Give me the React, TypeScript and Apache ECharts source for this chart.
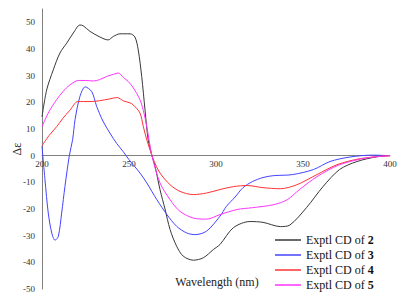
import React, { useEffect, useRef } from "react";
import * as echarts from "echarts";

const seriesNames = ["2", "3", "4", "5"];
const seriesColors = ["#383838", "#4444ff", "#ff3333", "#ff33ff"];

const cd2: [number, number][] = [
  [200, 14.6], [202.7, 24.7], [206.5, 32.2], [210.3, 38.5], [214.2, 42.2], [218, 46], [221.8, 49],
  [223.7, 48.7], [227.6, 46.6], [233.3, 44.5], [238, 43.4], [241, 44.7], [244.8, 45.7], [250.6, 45.7],
  [253.4, 44.5], [255.3, 39.7], [257.3, 29.7], [259.2, 17.2], [261, 6], [263.2, 0], [265, -4],
  [267.8, -12.7], [270.7, -20], [273.6, -27.7], [277.4, -34], [281.2, -37.7], [287, -39.2],
  [292.7, -38.3], [298.5, -35.2], [302.3, -33.3], [310, -27], [319.5, -24.7], [327, -25],
  [337, -26.6], [342.5, -26], [352, -19.5], [361.5, -11.6], [371, -5.2], [381, -2.2], [392.5, -0.4], [400, 0],
];

const cd3: [number, number][] = [
  [200, 3.5], [201.7, -9], [203.6, -21.5], [205.6, -29], [207.5, -31.7], [209.4, -30.2], [211.3, -21.5],
  [213.2, -11.5], [215.7, 0], [217.6, 6], [219, 13.5], [221.8, 22.2], [224.8, 25.8], [228.6, 24],
  [231.4, 18.5], [235, 13], [239, 8.5], [243, 4.5], [246.7, 1.5], [250, -1.5], [256.3, -6.5],
  [260.2, -10.2], [266, -16.5], [271.7, -22], [277.4, -26.5], [283.2, -29], [288, -29.6], [294.6, -28.3],
  [302.3, -22.7], [306, -19], [311, -15.5], [315.5, -12], [321, -9.7], [327, -8.2], [333, -7.5],
  [344, -7.1], [356, -5.2], [365.5, -2.2], [377, -0.5], [390, 0.2], [400, 0],
];

const cd4: [number, number][] = [
  [200, 3.7], [204, 7.5], [208.6, 11], [212, 14], [216, 17], [220.7, 20.3], [227.6, 20.3], [233, 20.6],
  [239, 21.3], [243, 21.8], [247, 20.5], [250.6, 19.8], [252.5, 19], [256.3, 16], [258.2, 11],
  [260.2, 6], [263.2, 0], [264, -1.5], [267.8, -6.5], [273.6, -10.9], [279.3, -13.4], [287, -14.6],
  [294.6, -14], [302.3, -12.7], [310, -11.6], [318, -11.2], [327, -12], [337, -12.4], [346.5, -10.9],
  [358, -7.1], [369.5, -3.4], [383, -1.1], [400, 0],
];

const cd5: [number, number][] = [
  [200, 10.9], [204, 16.5], [208.4, 21], [212, 24], [216, 26.5], [220.9, 28.2], [225, 28.2], [229.5, 28],
  [233, 28.5], [237.2, 29.7], [241, 30.5], [243.9, 31], [246.8, 29.3], [249.6, 27.8], [252.5, 25.4],
  [256.3, 21], [258.2, 17], [260.2, 11], [263.2, 0], [267.8, -10.2], [273.6, -16.5], [279.3, -20.9],
  [287, -23.4], [294.6, -23.8], [302.3, -22.1], [312, -20.2], [321, -19.5], [333, -18.4], [341, -16.5],
  [348, -12.7], [358, -7.9], [371, -3.4], [387, -0.8], [400, 0],
];

const allData = [cd2, cd3, cd4, cd5];

const xTitle = "Wavelength (nm)";
const yTitle = "Δε";

const FONT = "Liberation Serif";

export default function App() {
  const ref = useRef<HTMLDivElement>(null);
  useEffect(() => {
    if (!ref.current) return;
    const chart = echarts.init(ref.current, null, { renderer: "svg" });
    const gridTop = 9;
    const gridBottom = 15;
    const gridH = 304 - gridTop - gridBottom;
    const yMin = -50;
    const yMax = 55;
    const zeroOffset = (gridH * (0 - yMin)) / (yMax - yMin);
    chart.setOption({
      animation: false,
      backgroundColor: "#fff",
      textStyle: { fontFamily: FONT },
      grid: { left: 42, right: 13, top: gridTop, bottom: gridBottom, containLabel: false, outerBoundsMode: "none" },
      xAxis: {
        type: "value",
        min: 200,
        max: 400,
        interval: 50,
        offset: -zeroOffset,
        axisLine: { show: true, onZero: false, lineStyle: { color: "#808080", width: 1 } },
        axisTick: { show: false },
        splitLine: { show: false },
        axisLabel: { fontFamily: FONT, fontSize: 9, color: "#333", margin: 4 },
      },
      yAxis: {
        type: "value",
        min: yMin,
        max: yMax,
        interval: 10,
        name: yTitle,
        nameLocation: "middle",
        nameRotate: 90,
        nameGap: 19,
        nameMoveOverlap: false,
        nameTextStyle: { fontFamily: FONT, fontSize: 12, color: "#222" },
        axisLine: { show: true, lineStyle: { color: "#808080", width: 1 } },
        axisTick: { show: false },
        splitLine: { show: false },
        axisLabel: { fontFamily: FONT, fontSize: 9, color: "#333", margin: 7, showMaxLabel: false },
      },
      legend: {
        orient: "vertical",
        left: 275,
        top: 233,
        padding: 0,
        itemWidth: 26,
        itemHeight: 1.5,
        itemGap: 1,
        icon: "rect",
        data: seriesNames,
        formatter: (name: string) => `Exptl CD of {b|${name}}`,
        textStyle: {
          fontFamily: FONT,
          fontSize: 12,
          color: "#111",
          lineHeight: 14,
          rich: { b: { fontFamily: FONT, fontSize: 12, fontWeight: "bold", color: "#111", lineHeight: 14 } },
        },
      },
      graphic: [
        {
          type: "text",
          x: 217,
          y: 282,
          style: {
            text: xTitle,
            fontFamily: FONT,
            fontSize: 12,
            fill: "#222",
            align: "center",
            verticalAlign: "middle",
          },
        },
      ],
      series: seriesNames.map((n, i) => ({
        name: n,
        type: "line",
        data: allData[i],
        showSymbol: false,
        smooth: 0.3,
        color: seriesColors[i],
        lineStyle: { width: 1, color: seriesColors[i] },
      })),
    });
    return () => chart.dispose();
  }, []);
  return <div ref={ref} style={{ position: "fixed", left: 0, top: 0, width: 403, height: 304 }} />;
}
